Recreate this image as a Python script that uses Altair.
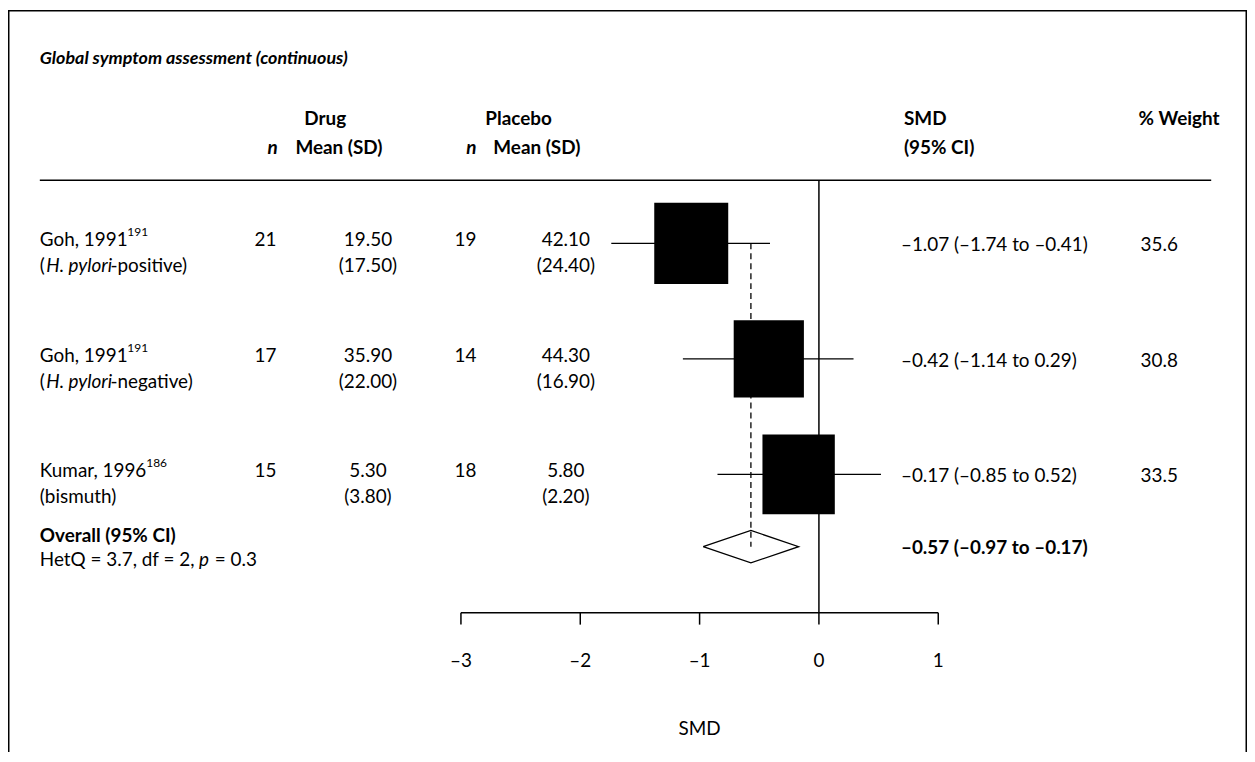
import altair as alt
import pandas as pd

# ---------------- data ----------------
study_names = ["Goh, 1991", "Goh, 1991", "Kumar, 1996"]
study_refs = ["191", "191", "186"]
sub_italic = ["H. pylori", "H. pylori", ""]
sub_suffix = ["-positive)", "-negative)", "(bismuth)"]
n_drug = [21, 17, 15]
mean_drug = [19.50, 35.90, 5.30]
sd_drug = [17.50, 22.00, 3.80]
n_placebo = [19, 14, 18]
mean_placebo = [42.10, 44.30, 5.80]
sd_placebo = [24.40, 16.90, 2.20]
smd = [-1.07, -0.42, -0.17]
ci_low = [-1.74, -1.14, -0.85]
ci_high = [-0.41, 0.29, 0.52]
weight = [35.6, 30.8, 33.5]
overall_est, overall_low, overall_high = -0.57, -0.97, -0.17
het_q, het_df, het_p = 3.7, 2, 0.3
axis_ticks = [-3, -2, -1, 0, 1]
title_text = "Global symptom assessment (continuous)"
axis_title = "SMD"

# ---------------- layout ----------------
W, H = 1246, 746
ZERO_PX, PX_PER_UNIT = 815.5, 120.0
ROW0_PX, ROW_PX = 234.6, 116.15
OVERALL_ROW = 2.626
DIAMOND_HALF = 0.14
FONT = "Lato"
FS = 19
SUP_X = {"Goh, 1991": 120, "Kumar, 1996": 139}
SQUARE_SIDES = (70.6, 74.4)  # px side for min / max weight

XS = alt.Scale(domain=[-ZERO_PX / PX_PER_UNIT, (W - ZERO_PX) / PX_PER_UNIT], nice=False, zero=False)
YS = alt.Scale(domain=[-ROW0_PX / ROW_PX, (H - ROW0_PX) / ROW_PX], nice=False, zero=False, reverse=True)


def dash(v, nd=2):
    s = f"{abs(v):.{nd}f}"
    return ("\u2013" + s) if v < 0 else s


studies = pd.DataFrame({
    "row": list(range(len(study_names))),
    "name": study_names,
    "ref": study_refs,
    "sub_it": sub_italic,
    "sub_sfx": sub_suffix,
    "n_d": [str(v) for v in n_drug],
    "m_d": [f"{v:.2f}" for v in mean_drug],
    "sd_d": [f"({v:.2f})" for v in sd_drug],
    "n_p": [str(v) for v in n_placebo],
    "m_p": [f"{v:.2f}" for v in mean_placebo],
    "sd_p": [f"({v:.2f})" for v in sd_placebo],
    "smd": smd,
    "lo": ci_low,
    "hi": ci_high,
    "w": weight,
})
studies["ci"] = [f"{dash(e)} ({dash(l)} to {dash(h)})" for e, l, h in zip(smd, ci_low, ci_high)]
studies["w_txt"] = [f"{v:.1f}" for v in weight]
studies["sup_x"] = studies["name"].map(SUP_X)
studies["has_it"] = studies["sub_it"] != ""

one = pd.DataFrame({"k": [0]})

Y = alt.Y("row:Q", scale=YS, axis=None)


def xfield(f):
    return alt.X(f, type="quantitative", scale=XS, axis=None)


def text_rows(field, x, dy=0, align="left", size=FS, weight="normal", style="normal", data=None):
    d = studies if data is None else data
    return alt.Chart(d).mark_text(
        align=align, baseline="middle", dy=dy, font=FONT, fontSize=size,
        fontWeight=weight, fontStyle=style, color="black"
    ).encode(x=alt.value(x), y=Y, text=alt.Text(f"{field}:N"))


def text_fixed(t, x, y, align="left", size=FS, weight="normal", style="normal"):
    return alt.Chart(one).mark_text(
        text=t, align=align, baseline="middle", font=FONT, fontSize=size,
        fontWeight=weight, fontStyle=style, color="black"
    ).encode(x=alt.value(x), y=alt.value(y))


layers = []

# frame (top, left, right)
layers.append(alt.Chart(one).mark_rule(color="black", strokeWidth=1.5).encode(
    x=alt.value(0), x2=alt.value(W), y=alt.value(0.75)))
layers.append(alt.Chart(one).mark_rule(color="black", strokeWidth=1.5).encode(
    x=alt.value(0.75), y=alt.value(0), y2=alt.value(H)))
layers.append(alt.Chart(one).mark_rule(color="black", strokeWidth=1.5).encode(
    x=alt.value(W - 0.75), y=alt.value(0), y2=alt.value(H)))

# title and headers
layers.append(text_fixed(title_text, 32, 49, size=18, weight="bold", style="italic"))
HY1, HY2 = 110, 139
layers.append(text_fixed("Drug", 298, HY1, weight="bold"))
layers.append(text_fixed("Placebo", 480, HY1, weight="bold"))
layers.append(text_fixed("SMD", 901, HY1, weight="bold"))
layers.append(text_fixed("% Weight", 1137, HY1, weight="bold"))
layers.append(text_fixed("n", 266, HY2, align="center", weight="bold", style="italic"))
layers.append(text_fixed("Mean (SD)", 289, HY2, weight="bold"))
layers.append(text_fixed("n", 466, HY2, align="center", weight="bold", style="italic"))
layers.append(text_fixed("Mean (SD)", 488, HY2, weight="bold"))
layers.append(text_fixed("(95% CI)", 901, HY2, weight="bold"))

# header rule
layers.append(alt.Chart(one).mark_rule(color="black", strokeWidth=1.5).encode(
    x=alt.value(32), x2=alt.value(1210), y=alt.value(171)))

# zero line
layers.append(alt.Chart(one).mark_rule(color="black", strokeWidth=1.5).encode(
    x=alt.X("z:Q", scale=XS, axis=None), y=alt.value(171), y2=alt.value(606)
).transform_calculate(z="0"))

# dashed overall line
dash_df = pd.DataFrame({"est": [overall_est], "r0": [0], "r1": [OVERALL_ROW]})
layers.append(alt.Chart(dash_df).mark_rule(color="black", strokeWidth=1.3, strokeDash=[6, 4]).encode(
    x=xfield("est"), y=alt.Y("r0:Q", scale=YS, axis=None), y2="r1:Q"))

# CI lines
layers.append(alt.Chart(studies).mark_rule(color="black", strokeWidth=1.3).encode(
    x=xfield("lo"), x2="hi:Q", y=Y))

# squares (size by weight)
layers.append(alt.Chart(studies).mark_point(
    shape="M-1,-1.1H1V1.1H-1Z", filled=True, color="black", opacity=1, strokeWidth=0
).encode(
    x=xfield("smd"), y=Y,
    size=alt.Size("w:Q", scale=alt.Scale(domain=[min(weight), max(weight)],
                                         range=[SQUARE_SIDES[0] ** 2, SQUARE_SIDES[1] ** 2],
                                         zero=False), legend=None)))

# diamond
dia = pd.DataFrame({
    "x": [overall_low, overall_est, overall_high, overall_est, overall_low],
    "y": [OVERALL_ROW, OVERALL_ROW - DIAMOND_HALF, OVERALL_ROW, OVERALL_ROW + DIAMOND_HALF, OVERALL_ROW],
    "o": [0, 1, 2, 3, 4],
})
layers.append(alt.Chart(dia).mark_line(color="black", strokeWidth=1.3).encode(
    x=xfield("x"), y=alt.Y("y:Q", scale=YS, axis=None), order="o:Q"))

# study rows text
L1, L2 = -3, 23
layers.append(text_rows("name", 32, dy=L1))
layers.append(alt.Chart(studies).mark_text(
    align="left", baseline="middle", dy=L1 - 8, font=FONT, fontSize=12, color="black"
).encode(x=alt.X("sup_x:Q", scale=None), y=Y, text="ref:N"))
it_rows = studies[studies["has_it"]]
plain_rows = studies[~studies["has_it"]]
layers.append(alt.Chart(it_rows).mark_text(
    text="(", align="left", baseline="middle", dy=L2, font=FONT, fontSize=FS, color="black"
).encode(x=alt.value(32), y=Y))
layers.append(text_rows("sub_it", 38.5, dy=L2, style="italic", data=it_rows))
layers.append(text_rows("sub_sfx", 103, dy=L2, data=it_rows))
layers.append(text_rows("sub_sfx", 32, dy=L2, data=plain_rows))
layers.append(text_rows("n_d", 259, dy=L1, align="center"))
layers.append(text_rows("m_d", 362, dy=L1, align="center"))
layers.append(text_rows("sd_d", 362, dy=L2, align="center"))
layers.append(text_rows("n_p", 460, dy=L1, align="center"))
layers.append(text_rows("m_p", 561, dy=L1, align="center"))
layers.append(text_rows("sd_p", 561, dy=L2, align="center"))
layers.append(text_rows("ci", 898, dy=2))
layers.append(text_rows("w_txt", 1139, dy=2))

# overall row
ov = pd.DataFrame({
    "row": [OVERALL_ROW],
    "label": ["Overall (95% CI)"],
    "het_a": [f"HetQ = {het_q}, df = {het_df},"],
    "het_p": ["p"],
    "het_b": [f"= {het_p}"],
    "ci": [f"{dash(overall_est)} ({dash(overall_low)} to {dash(overall_high)})"],
})
layers.append(text_rows("label", 32, dy=-11, weight="bold", data=ov))
layers.append(text_rows("het_a", 32, dy=13, data=ov))
layers.append(text_rows("het_p", 192, dy=13, style="italic", data=ov))
layers.append(text_rows("het_b", 208, dy=13, data=ov))
layers.append(text_rows("ci", 898, dy=1, weight="bold", data=ov))

# axis
ticks = pd.DataFrame({"t": axis_ticks})
ticks["lab"] = [dash(v, 0) if v != 0 else "0" for v in axis_ticks]
layers.append(alt.Chart(pd.DataFrame({"a": [min(axis_ticks)], "b": [max(axis_ticks)]})).mark_rule(
    color="black", strokeWidth=1.5).encode(x=xfield("a"), x2="b:Q", y=alt.value(606)))
layers.append(alt.Chart(ticks).mark_rule(color="black", strokeWidth=1.5).encode(
    x=xfield("t"), y=alt.value(606), y2=alt.value(618)))
layers.append(alt.Chart(ticks).mark_text(
    align="center", baseline="middle", font=FONT, fontSize=FS, color="black"
).encode(x=xfield("t"), y=alt.value(655), text="lab:N"))
layers.append(alt.Chart(pd.DataFrame({"c": [(min(axis_ticks) + max(axis_ticks)) / 2], "t": [axis_title]})).mark_text(
    align="center", baseline="middle", font=FONT, fontSize=FS, color="black"
).encode(x=xfield("c"), y=alt.value(723), text="t:N"))

chart = alt.layer(*layers).properties(
    width=W, height=H, padding=0,
    autosize=alt.AutoSizeParams(type="none"),
    background="white",
).configure_view(stroke=None)

chart.save("out.html", embed_options={"renderer": "svg", "actions": False})
